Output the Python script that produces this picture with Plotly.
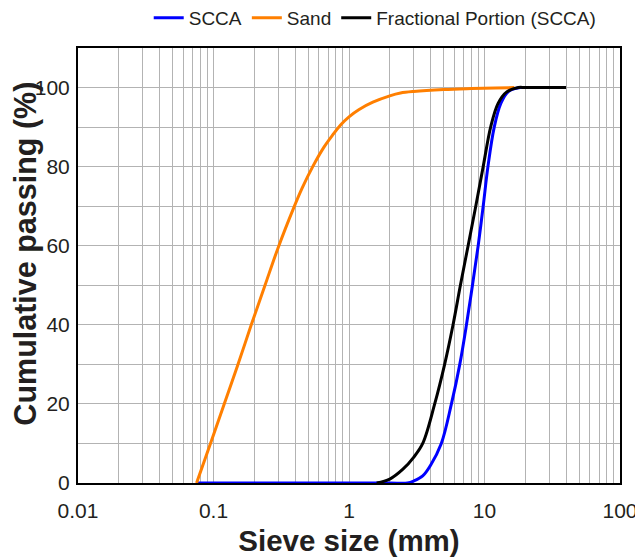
import plotly.graph_objects as go

# ---- data ----
sieve_scca = [0.075, 1.0, 2.0, 2.7, 3.0, 3.5, 4.0, 4.8, 5.7, 6.57, 7.36, 8.15, 8.98, 9.78, 10.6, 11.8, 13.2, 15.0, 18.3, 20.0]
pass_scca = [0, 0, 0, 0, 0.5, 1.8, 4.5, 10, 20, 30, 40, 50, 60, 70, 80, 90, 96, 99, 100, 100]

sieve_sand = [0.075, 0.095, 0.12, 0.15, 0.19, 0.24, 0.30, 0.39, 0.45, 0.54, 0.65, 0.75, 0.87,
              1.0, 1.18, 1.5, 2.0, 2.4, 3.0, 5.0, 8.0, 12.0, 16.6]
pass_sand = [0, 10, 20, 29.5, 40, 50, 59.5, 69.5, 74.5, 80, 84.8, 87.8, 90.6,
             92.6, 94.4, 96.3, 97.9, 98.6, 99.0, 99.5, 99.75, 99.9, 100]

sieve_frac = [1.6, 2.0, 2.5, 3.0, 3.5, 4.29, 5.08, 5.86, 6.64, 7.57, 8.62, 9.78, 11.1, 12.6, 14.6, 17.8, 20.0, 40.0]
pass_frac = [0, 1.0, 3.5, 6.5, 10, 20, 30, 40, 50, 60, 70, 80, 90, 96, 98.9, 100, 100, 100]

x_decades = [0.01, 0.1, 1, 10, 100]
x_decade_labels = ["0.01", "0.1", "1", "10", "100"]
y_ticks = [0, 10, 20, 30, 40, 50, 60, 70, 80, 90, 100, 110]
y_labels = ["0", "", "20", "", "40", "", "60", "", "80", "", "100", ""]

# log grid: every 1..9 x decade, labels only at decades
x_tickvals, x_ticktext = [], []
for d, lab in zip(x_decades, x_decade_labels):
    for m in range(1, 10):
        v = d * m
        if v > 100:
            break
        x_tickvals.append(v)
        x_ticktext.append(lab if m == 1 else "")

fig = go.Figure()
line_kw = dict(shape="spline", smoothing=1.0, width=3)
fig.add_trace(go.Scatter(x=sieve_scca, y=pass_scca, mode="lines", name="SCCA",
                         line=dict(color="#0000ff", **line_kw)))
fig.add_trace(go.Scatter(x=sieve_sand, y=pass_sand, mode="lines", name="Sand",
                         line=dict(color="#ff7f00", **line_kw)))
fig.add_trace(go.Scatter(x=sieve_frac, y=pass_frac, mode="lines", name="Fractional Portion (SCCA)",
                         line=dict(color="#000000", **line_kw)))

font_family = "Liberation Sans, Arial, sans-serif"
fig.update_layout(
    width=635, height=549,
    margin=dict(l=70, r=23, t=40, b=74, autoexpand=False),
    paper_bgcolor="white", plot_bgcolor="white",
    font=dict(family=font_family, color="#231f20"),
    showlegend=True,
    legend=dict(orientation="h", xref="container", x=0.935, xanchor="right",
                yref="container", y=0.982, yanchor="middle",
                font=dict(size=19, color="#231f20"), bgcolor="rgba(0,0,0,0)",
                itemwidth=30, traceorder="normal"),
    annotations=[dict(text="<b>Cumulative passing (%)</b>", textangle=-90,
                      xref="paper", yref="paper", x=-0.0975, y=0.5276,
                      xanchor="center", yanchor="middle", showarrow=False,
                      borderpad=0, font=dict(size=30.5, color="#231f20"))],
)
fig.update_xaxes(
    type="log", range=[-2, 2], automargin=False,
    tickmode="array", tickvals=x_tickvals, ticktext=x_ticktext,
    tickfont=dict(size=21), ticks="", ticklabelstandoff=8,
    showgrid=True, gridcolor="#b3b3b3", gridwidth=1,
    showline=True, linecolor="black", linewidth=2, mirror=True,
    zeroline=False,
    title=dict(text="<b>Sieve size (mm)</b>", font=dict(size=29.5), standoff=11),
)
fig.update_yaxes(
    range=[0, 110], automargin=False,
    tickmode="array", tickvals=y_ticks, ticktext=y_labels,
    tickfont=dict(size=21), ticks="", ticklabelstandoff=2,
    showgrid=True, gridcolor="#b3b3b3", gridwidth=1,
    showline=True, linecolor="black", linewidth=2, mirror=True,
    zeroline=False,
)

fig.write_html("out.html")
